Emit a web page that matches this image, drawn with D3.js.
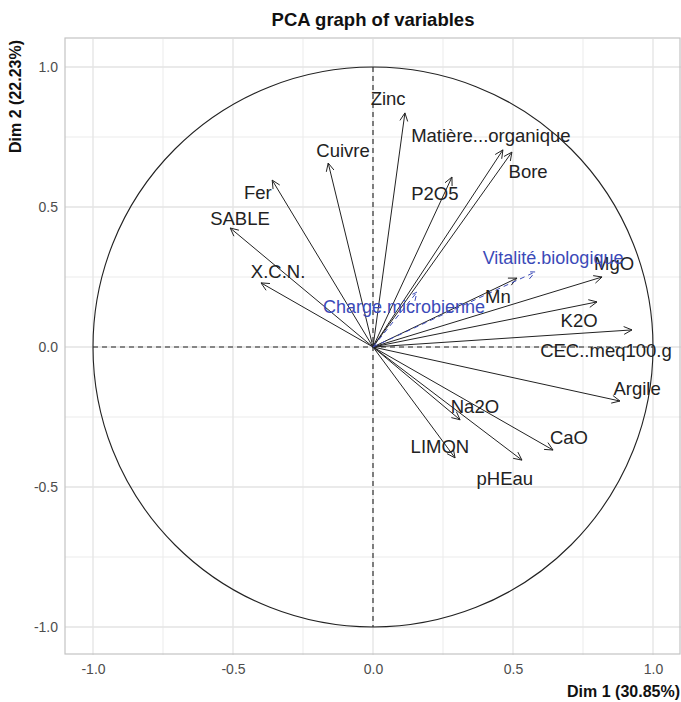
<!DOCTYPE html>
<html>
  <head>
    <meta charset="utf-8">
    <title>PCA graph of variables</title>
    <script src="https://cdn.jsdelivr.net/npm/d3@7"></script>
    <style type="text/css">
      body { margin: 0; background: #fff; }
      text { font-family: "Liberation Sans", Arial, sans-serif; }
    </style>
  </head>
  <body>
    <script>
    //Width and height
    var svgWidth = 681;
    var svgHeight = 702;

    //Active variables: name, Dim 1, Dim 2
    var variables = ["Zinc", "Matière...organique", "Bore", "Cuivre", "Fer", "SABLE", "X.C.N.",
                     "P2O5", "Mn", "MgO", "K2O", "CEC..meq100.g", "Argile", "Na2O", "LIMON", "pHEau", "CaO"];
    var dim1 = [0.114, 0.464, 0.496, -0.16, -0.36, -0.51, -0.40,
                0.282, 0.514, 0.818, 0.80, 0.925, 0.882, 0.311, 0.293, 0.532, 0.643];
    var dim2 = [0.836, 0.704, 0.696, 0.657, 0.596, 0.425, 0.229,
                0.607, 0.246, 0.25, 0.161, 0.061, -0.193, -0.26, -0.396, -0.404, -0.368];
    //where each label sits, in Dim units
    var labelDim1 = [0.054, 0.421, 0.554, -0.107, -0.411, -0.475, -0.339,
                     0.221, 0.446, 0.861, 0.736, 0.832, 0.943, 0.364, 0.239, 0.471, 0.70];
    var labelDim2 = [0.889, 0.757, 0.629, 0.704, 0.554, 0.461, 0.271,
                     0.55, 0.182, 0.30, 0.096, -0.011, -0.146, -0.211, -0.354, -0.468, -0.321];

    //Supplementary variables (blue, dashed)
    var suppVariables = ["Vitalité.biologique", "Charge.microbienne"];
    var suppDim1 = [0.579, 0.157];
    var suppDim2 = [0.268, 0.196];
    var suppLabelDim1 = [0.643, 0.111];
    var suppLabelDim2 = [0.321, 0.146];

    var majorTicks = [-1.0, -0.5, 0.0, 0.5, 1.0];
    var minorTicks = [-0.75, -0.25, 0.25, 0.75];

    var xScale = d3.scaleLinear().domain([-1.1, 1.1]).range([65, 681]);
    var yScale = d3.scaleLinear().domain([-1.1, 1.1]).range([655, 39]);

    var svg = d3.select("body")
      .append("svg")
        .attr("width", svgWidth)
        .attr("height", svgHeight);

    //Grid
    var grid = svg.append("g");
    grid.selectAll(".vminor").data(minorTicks).enter().append("line")
      .attr("x1", d => xScale(d)).attr("x2", d => xScale(d))
      .attr("y1", yScale.range()[0]).attr("y2", yScale.range()[1])
      .attr("stroke", "#ebebeb").attr("stroke-width", 1);
    grid.selectAll(".hminor").data(minorTicks).enter().append("line")
      .attr("y1", d => yScale(d)).attr("y2", d => yScale(d))
      .attr("x1", xScale.range()[0]).attr("x2", xScale.range()[1])
      .attr("stroke", "#ebebeb").attr("stroke-width", 1);
    grid.selectAll(".vmajor").data(majorTicks).enter().append("line")
      .attr("x1", d => xScale(d)).attr("x2", d => xScale(d))
      .attr("y1", yScale.range()[0]).attr("y2", yScale.range()[1])
      .attr("stroke", "#e3e3e3").attr("stroke-width", 1.3);
    grid.selectAll(".hmajor").data(majorTicks).enter().append("line")
      .attr("y1", d => yScale(d)).attr("y2", d => yScale(d))
      .attr("x1", xScale.range()[0]).attr("x2", xScale.range()[1])
      .attr("stroke", "#e3e3e3").attr("stroke-width", 1.3);

    //Panel border
    svg.append("rect")
      .attr("x", xScale(-1.1)).attr("y", yScale(1.1) - 1)
      .attr("width", xScale(1.1) - xScale(-1.1) - 1)
      .attr("height", yScale(-1.1) - yScale(1.1))
      .attr("fill", "none").attr("stroke", "#c4c4c4").attr("stroke-width", 1.2);

    //Axes
    var xAxis = d3.axisBottom(xScale).tickValues(majorTicks).tickSize(0).tickPadding(9);
    var yAxis = d3.axisLeft(yScale).tickValues(majorTicks).tickSize(0).tickPadding(7);
    var gx = svg.append("g").attr("transform", "translate(0," + yScale(-1.1) + ")").call(xAxis);
    var gy = svg.append("g").attr("transform", "translate(" + xScale(-1.1) + ",0)").call(yAxis);
    [gx, gy].forEach(function(g) {
      g.select(".domain").remove();
      g.selectAll("text")
        .attr("fill", "#4d4d4d")
        .attr("font-size", "14px")
        .attr("font-family", "'Liberation Sans', Arial, sans-serif")
        .text(function(d) { return d.toFixed(1); });
    });

    //Correlation circle
    svg.append("ellipse")
      .attr("cx", xScale(0)).attr("cy", yScale(0))
      .attr("rx", xScale(1) - xScale(0)).attr("ry", yScale(0) - yScale(1))
      .attr("fill", "none").attr("stroke", "#222").attr("stroke-width", 1.1);

    //Dashed axes through origin
    svg.append("line")
      .attr("x1", xScale(-1)).attr("x2", xScale(1))
      .attr("y1", yScale(0)).attr("y2", yScale(0))
      .attr("stroke", "#222").attr("stroke-dasharray", "5,4").attr("stroke-width", 1.1);
    svg.append("line")
      .attr("x1", xScale(0)).attr("x2", xScale(0))
      .attr("y1", yScale(1)).attr("y2", yScale(-1))
      .attr("stroke", "#222").attr("stroke-dasharray", "5,4").attr("stroke-width", 1.1);

    //Arrow drawing
    function arrowPath(x, y) {
      var x0 = xScale(0), y0 = yScale(0);
      var x1 = xScale(x), y1 = yScale(y);
      var a = Math.atan2(y1 - y0, x1 - x0);
      var len = 9, spread = Math.PI / 7;
      var p = d3.path();
      p.moveTo(x0, y0);
      p.lineTo(x1, y1);
      p.moveTo(x1 - len * Math.cos(a - spread), y1 - len * Math.sin(a - spread));
      p.lineTo(x1, y1);
      p.lineTo(x1 - len * Math.cos(a + spread), y1 - len * Math.sin(a + spread));
      return p.toString();
    }

    var active = d3.range(variables.length);
    svg.selectAll(".arrow").data(active).enter().append("path")
      .attr("d", function(i) { return arrowPath(dim1[i], dim2[i]); })
      .attr("fill", "none").attr("stroke", "#222").attr("stroke-width", 1);

    var supp = d3.range(suppVariables.length);
    svg.selectAll(".supparrow").data(supp).enter().append("path")
      .attr("d", function(i) { return arrowPath(suppDim1[i], suppDim2[i]); })
      .attr("fill", "none").attr("stroke", "#3b4ab8").attr("stroke-width", 1)
      .attr("stroke-dasharray", "5,4");

    svg.selectAll(".label").data(active).enter().append("text")
      .attr("x", function(i) { return xScale(labelDim1[i]); })
      .attr("y", function(i) { return yScale(labelDim2[i]); })
      .attr("dy", "0.36em")
      .attr("text-anchor", "middle")
      .attr("font-size", "18.5px")
      .attr("fill", "#222")
      .text(function(i) { return variables[i]; });

    svg.selectAll(".supplabel").data(supp).enter().append("text")
      .attr("x", function(i) { return xScale(suppLabelDim1[i]); })
      .attr("y", function(i) { return yScale(suppLabelDim2[i]); })
      .attr("dy", "0.36em")
      .attr("text-anchor", "middle")
      .attr("font-size", "18px")
      .attr("fill", "#3b4ab8")
      .text(function(i) { return suppVariables[i]; });

    //Titles
    svg.append("text")
      .attr("x", (xScale(-1.1) + xScale(1.1)) / 2).attr("y", 26)
      .attr("text-anchor", "middle")
      .attr("font-size", "18.5px").attr("font-weight", "bold").attr("fill", "#111")
      .text("PCA graph of variables");

    svg.append("text")
      .attr("x", xScale(1.1) - 1).attr("y", 697)
      .attr("text-anchor", "end")
      .attr("font-size", "16px").attr("font-weight", "bold").attr("fill", "#111")
      .text("Dim 1 (30.85%)");

    svg.append("text")
      .attr("transform", "translate(21," + (yScale(1.1) + 1) + ") rotate(-90)")
      .attr("text-anchor", "end")
      .attr("font-size", "16px").attr("font-weight", "bold").attr("fill", "#111")
      .text("Dim 2 (22.23%)");
    </script>
  </body>
</html>
